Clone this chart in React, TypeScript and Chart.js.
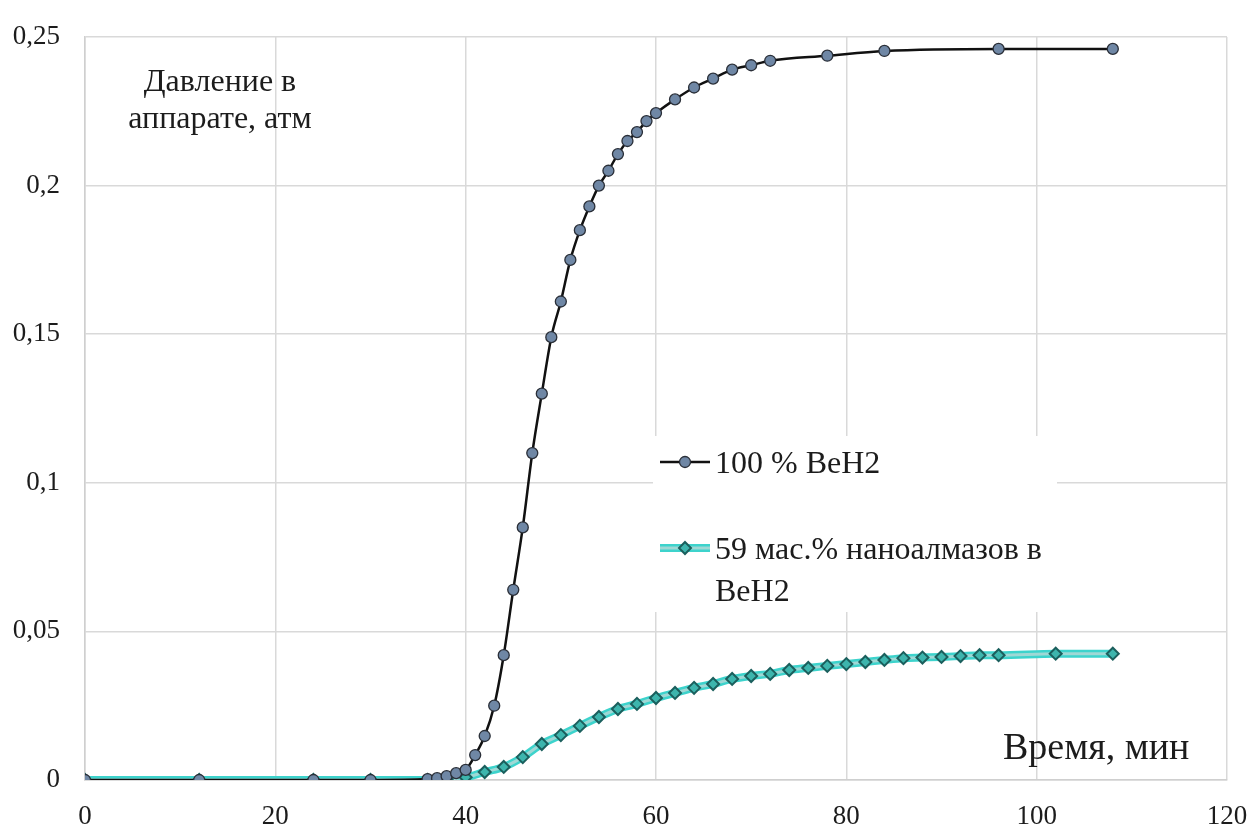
import { useEffect, useRef } from "react";
import { Chart, registerables } from "chart.js";

Chart.register(...registerables);

// ---- Data ----
const timeBeH2 = [0, 12, 24, 30, 36, 37, 38, 39, 40, 41, 42, 43, 44, 45, 46, 47, 48, 49, 50, 51, 52, 53, 54, 55, 56, 57, 58, 59, 60, 62, 64, 66, 68, 70, 72, 78, 84, 96, 108];
const pressureBeH2 = [0, 0, 0, 0, 0.0003, 0.0006, 0.0013, 0.0023, 0.0034, 0.0084, 0.0148, 0.025, 0.042, 0.064, 0.085, 0.11, 0.13, 0.149, 0.161, 0.175, 0.185, 0.193, 0.2, 0.205, 0.2106, 0.215, 0.218, 0.2217, 0.2244, 0.229, 0.233, 0.236, 0.239, 0.2405, 0.242, 0.2437, 0.2453, 0.246, 0.246];

const timeNano = [0, 12, 24, 30, 36, 37, 38, 40, 42, 44, 46, 48, 50, 52, 54, 56, 58, 60, 62, 64, 66, 68, 70, 72, 74, 76, 78, 80, 82, 84, 86, 88, 90, 92, 94, 96, 102, 108];
const pressureNano = [0, 0, 0, 0, 0, 0, 0.0003, 0.0009, 0.0027, 0.0044, 0.0077, 0.0121, 0.0151, 0.0182, 0.0212, 0.0239, 0.0256, 0.0276, 0.0293, 0.031, 0.0323, 0.034, 0.035, 0.0357, 0.037, 0.0377, 0.0384, 0.039, 0.0397, 0.0404, 0.041, 0.0412, 0.0414, 0.0417, 0.042, 0.042, 0.0425, 0.0425];

const xTickValues = [0, 20, 40, 60, 80, 100, 120];
const yTickLabels = ["0", "0,05", "0,1", "0,15", "0,2", "0,25"];

const seriesNames = ["100 % BeH2", "59 мас.% наноалмазов в", "BeH2"];
const yTitleLines = ["Давление в", "аппарате, атм"];
const xTitle = "Время, мин";

const FONT = "'Liberation Serif', 'Times New Roman', serif";
const TEXT_COLOR = "#1c1c1c";
const GRID_COLOR = "#d9d9d9";

const NANO_OUTER = "#3dd3cc";
const NANO_INNER = "#9fd8d5";
const NANO_FILL = "#3db5ad";
const NANO_EDGE = "#1b5f5d";

const toPoints = (xs: number[], ys: number[]) => xs.map((x, i) => ({ x, y: ys[i] }));

function drawCircle(ctx: CanvasRenderingContext2D, x: number, y: number) {
  ctx.beginPath();
  ctx.arc(x, y, 5.5, 0, Math.PI * 2);
  ctx.fillStyle = "#6f87a5";
  ctx.fill();
  ctx.lineWidth = 1.3;
  ctx.strokeStyle = "#2a2f38";
  ctx.stroke();
}

function drawDiamond(ctx: CanvasRenderingContext2D, x: number, y: number) {
  const r = 6;
  ctx.beginPath();
  ctx.moveTo(x, y - r);
  ctx.lineTo(x + r, y);
  ctx.lineTo(x, y + r);
  ctx.lineTo(x - r, y);
  ctx.closePath();
  ctx.fillStyle = NANO_FILL;
  ctx.fill();
  ctx.lineWidth = 2;
  ctx.strokeStyle = NANO_EDGE;
  ctx.stroke();
}

const overlayPlugin = {
  id: "overlayTexts",
  beforeDatasetsDraw(chart: any) {
    const ctx: CanvasRenderingContext2D = chart.ctx;
    ctx.save();
    // legend background box
    ctx.fillStyle = "#ffffff";
    ctx.fillRect(653, 436, 404, 176);

    ctx.fillStyle = TEXT_COLOR;
    ctx.textBaseline = "alphabetic";

    // y title (inside plot, top-left)
    ctx.font = `32px ${FONT}`;
    ctx.textAlign = "center";
    ctx.fillText(yTitleLines[0], 220, 91);
    ctx.fillText(yTitleLines[1], 220, 128);

    // x title (inside plot, bottom-right)
    ctx.font = `38px ${FONT}`;
    ctx.textAlign = "left";
    ctx.fillText(xTitle, 1003, 759);

    // legend entry 1
    ctx.beginPath();
    ctx.moveTo(660, 462);
    ctx.lineTo(710, 462);
    ctx.lineWidth = 2.5;
    ctx.strokeStyle = "#111111";
    ctx.stroke();
    drawCircle(ctx, 685, 462);

    // legend entry 2
    ctx.beginPath();
    ctx.moveTo(660, 548);
    ctx.lineTo(710, 548);
    ctx.lineWidth = 8;
    ctx.strokeStyle = NANO_OUTER;
    ctx.stroke();
    ctx.beginPath();
    ctx.moveTo(660, 548);
    ctx.lineTo(710, 548);
    ctx.lineWidth = 3;
    ctx.strokeStyle = NANO_INNER;
    ctx.stroke();
    drawDiamond(ctx, 685, 548);

    ctx.fillStyle = TEXT_COLOR;
    ctx.font = `32px ${FONT}`;
    ctx.textAlign = "left";
    ctx.fillText(seriesNames[0], 715, 473);
    ctx.fillText(seriesNames[1], 715, 559);
    ctx.fillText(seriesNames[2], 715, 601);
    ctx.restore();
  },
};

export default function App() {
  const canvasRef = useRef<HTMLCanvasElement | null>(null);

  useEffect(() => {
    document.body.style.margin = "0";
    const canvas = canvasRef.current;
    if (!canvas) return;
    const nanoPts = toPoints(timeNano, pressureNano);
    const chart = new Chart(canvas, {
      type: "line",
      data: {
        datasets: [
          {
            label: seriesNames[0],
            data: toPoints(timeBeH2, pressureBeH2),
            borderColor: "#111111",
            borderWidth: 2.5,
            cubicInterpolationMode: "monotone",
            pointStyle: "circle",
            pointRadius: 5.5,
            pointBackgroundColor: "#6f87a5",
            pointBorderColor: "#2a2f38",
            pointBorderWidth: 1.3,
            order: 1,
          },
          {
            label: "nano-points",
            data: nanoPts,
            showLine: false,
            pointStyle: "rectRot",
            pointRadius: 6,
            pointBackgroundColor: NANO_FILL,
            pointBorderColor: NANO_EDGE,
            pointBorderWidth: 2,
            order: 2,
          },
          {
            label: "nano-inner",
            data: nanoPts,
            borderColor: NANO_INNER,
            borderWidth: 3,
            cubicInterpolationMode: "monotone",
            pointRadius: 0,
            order: 3,
          },
          {
            label: seriesNames[1],
            data: nanoPts,
            borderColor: NANO_OUTER,
            borderWidth: 8,
            cubicInterpolationMode: "monotone",
            pointRadius: 0,
            order: 4,
          },
        ],
      },
      options: {
        responsive: false,
        animation: false,
        events: [],
        layout: { padding: { left: 0, right: 24, top: 37, bottom: 0 } },
        plugins: {
          legend: { display: false },
          tooltip: { enabled: false },
          title: { display: false },
        },
        scales: {
          x: {
            type: "linear",
            min: 0,
            max: 120,
            afterFit: (scale: any) => {
              scale.height = 47;
              scale.paddingLeft = 0;
              scale.paddingRight = 0;
            },
            afterBuildTicks: (scale: any) => {
              scale.ticks = xTickValues.map((v) => ({ value: v }));
            },
            ticks: {
              font: { family: FONT, size: 27 },
              color: TEXT_COLOR,
              padding: 21,
              maxRotation: 0,
              callback: (v: any) => String(v),
            },
            grid: { color: GRID_COLOR, lineWidth: 1.5, drawTicks: false },
            border: { display: true, color: "#cfcfcf", width: 1.5 },
          },
          y: {
            type: "linear",
            min: 0,
            max: 0.25,
            afterFit: (scale: any) => {
              scale.width = 85;
              scale.paddingTop = 0;
              scale.paddingBottom = 0;
            },
            ticks: {
              stepSize: 0.05,
              font: { family: FONT, size: 27 },
              color: TEXT_COLOR,
              padding: 25,
              callback: (_v: any, i: number) => yTickLabels[i],
            },
            grid: { color: GRID_COLOR, lineWidth: 1.5, drawTicks: false },
            border: { display: true, color: "#cfcfcf", width: 1.5 },
          },
        },
      },
      plugins: [overlayPlugin],
    } as any);
    return () => chart.destroy();
  }, []);

  return (
    <div style={{ width: 1251, height: 827, background: "#ffffff" }}>
      <canvas ref={canvasRef} width={1251} height={827} style={{ display: "block" }} />
    </div>
  );
}
